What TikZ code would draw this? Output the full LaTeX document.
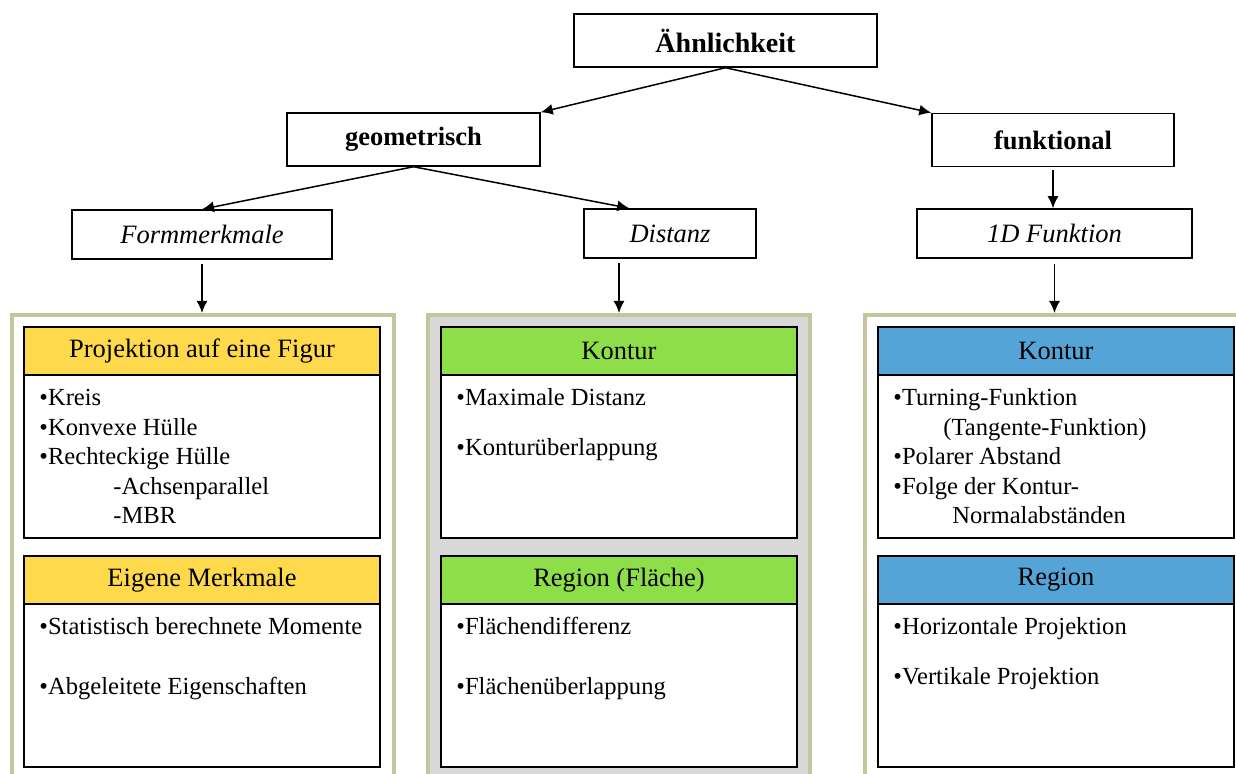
\documentclass[tikz,border=0pt]{standalone}
\usepackage{fontspec}
\setmainfont{Liberation Serif}
\usetikzlibrary{arrows.meta,positioning}

\definecolor{headyellow}{RGB}{255,217,76}
\definecolor{headgreen}{RGB}{142,222,74}
\definecolor{headblue}{RGB}{84,164,215}
\definecolor{panelgray}{RGB}{216,216,216}
\definecolor{panelolive}{RGB}{196,196,158}

\tikzset{
  topbox/.style={draw, line width=0.75pt, minimum height=26.5pt, font=\bfseries},
  subbox/.style={draw, line width=0.75pt, minimum height=24.5pt, font=\itshape},
  panel/.style={draw=panelolive, line width=2pt, minimum width=191pt, minimum height=250pt, anchor=north},
  headbox/.style={draw, line width=1pt, outer sep=0pt, minimum width=178pt, minimum height=24pt},
  bodybox/.style={draw, line width=1pt, outer sep=0pt, minimum width=178pt, minimum height=81.5pt, fill=white},
  bodytext/.style={anchor=north west, inner sep=0pt, align=left, font=\fontsize{12.3}{14.7}\selectfont},
  conn/.style={-{Latex[length=6pt,width=5.5pt]}, line width=0.75pt},
}

\begin{document}
\fontsize{13.25}{14.7}\selectfont
\begin{tikzpicture}[x=0.5pt, y=-0.5pt]
\clip (0,0) rectangle (1236,774);

% upper tree
\node [topbox, minimum width=151.5pt, font=\bfseries\fontsize{14}{16}\selectfont] (top) at (725.5,40.5) {Ähnlichkeit};
\node [topbox, minimum width=126.5pt] (geo) at (413.5,139.5) {geometrisch};
\node [topbox, minimum width=121pt] (funk) at (1053,140) {funktional};
\node [subbox, minimum width=130pt] (form) at (202,234.5) {Formmerkmale};
\node [subbox, minimum width=86pt] (dist) at (670,233.5) {Distanz};
\node [subbox, minimum width=137.5pt] (fun1d) at (1054.5,233.5) {1D Funktion};

% panels
\node [panel] (lpanel) at (203,313) {};
\node [panel, fill=panelgray] (mpanel) at (619,313) {};
\node [panel] (rpanel) at (1056,313) {};

\draw [conn] (top.south) -- (geo.north east);
\draw [conn] (top.south) -- (funk.north west);
\draw [conn] (geo.south) -- (form.north);
\draw [conn] (geo.south) -- ([xshift=23pt]dist.north west);
\draw [conn, shorten <=1.5pt] (funk.south) -- (funk.south |- fun1d.north);
\draw [conn, shorten <=2pt] (form.south) -- (form.south |- lpanel.north);
\draw [conn, shorten <=2pt] (dist.south -| mpanel.north) -- (mpanel.north);
\draw [conn, shorten <=2.5pt] (fun1d.south) -- (fun1d.south |- rpanel.north);

% left column
\node [headbox, fill=headyellow] (lhead1) at (202,351) {Projektion auf eine Figur};
\node [bodybox, below=0pt of lhead1] (lbody1) {};
\node [headbox, fill=headyellow, below=9pt of lbody1] (lhead2) {Eigene Merkmale};
\node [bodybox, below=0pt of lhead2] (lbody2) {};
\node [bodytext] (ltext1) at ([xshift=7.5pt,yshift=-5pt]lbody1.north west)
  {\strut•Kreis\\•Konvexe Hülle\\•Rechteckige Hülle\\\hspace*{37pt}-Achsenparallel\\\hspace*{37pt}-MBR};
\node [bodytext] (ltext2) at ([xshift=7.5pt,yshift=-5pt]lbody2.north west)
  {\strut•Statistisch berechnete Momente\\[15.3pt]•Abgeleitete Eigenschaften};

% middle column
\node [headbox, fill=headgreen] (mhead1) at (619,351) {Kontur};
\node [bodybox, below=0pt of mhead1] (mbody1) {};
\node [headbox, fill=headgreen, below=9pt of mbody1] (mhead2) {Region (Fläche)};
\node [bodybox, below=0pt of mhead2] (mbody2) {};
\node [bodytext] (mtext1) at ([xshift=7.5pt,yshift=-5pt]mbody1.north west)
  {\strut•Maximale Distanz\\[10.3pt]•Konturüberlappung};
\node [bodytext] (mtext2) at ([xshift=7.5pt,yshift=-5pt]mbody2.north west)
  {\strut•Flächendifferenz\\[15.3pt]•Flächenüberlappung};

% right column
\node [headbox, fill=headblue] (rhead1) at (1056,351) {Kontur};
\node [bodybox, below=0pt of rhead1] (rbody1) {};
\node [headbox, fill=headblue, below=9pt of rbody1] (rhead2) {Region};
\node [bodybox, below=0pt of rhead2] (rbody2) {};
\node [bodytext] (rtext1) at ([xshift=7.5pt,yshift=-5pt]rbody1.north west)
  {\strut•Turning-Funktion\\\hspace*{25pt}(Tangente-Funktion)\\•Polarer Abstand\\•Folge der Kontur-\\\hspace*{29.5pt}Normalabständen};
\node [bodytext] (rtext2) at ([xshift=7.5pt,yshift=-5pt]rbody2.north west)
  {\strut•Horizontale Projektion\\[10.3pt]•Vertikale Projektion};
\end{tikzpicture}
\end{document}
